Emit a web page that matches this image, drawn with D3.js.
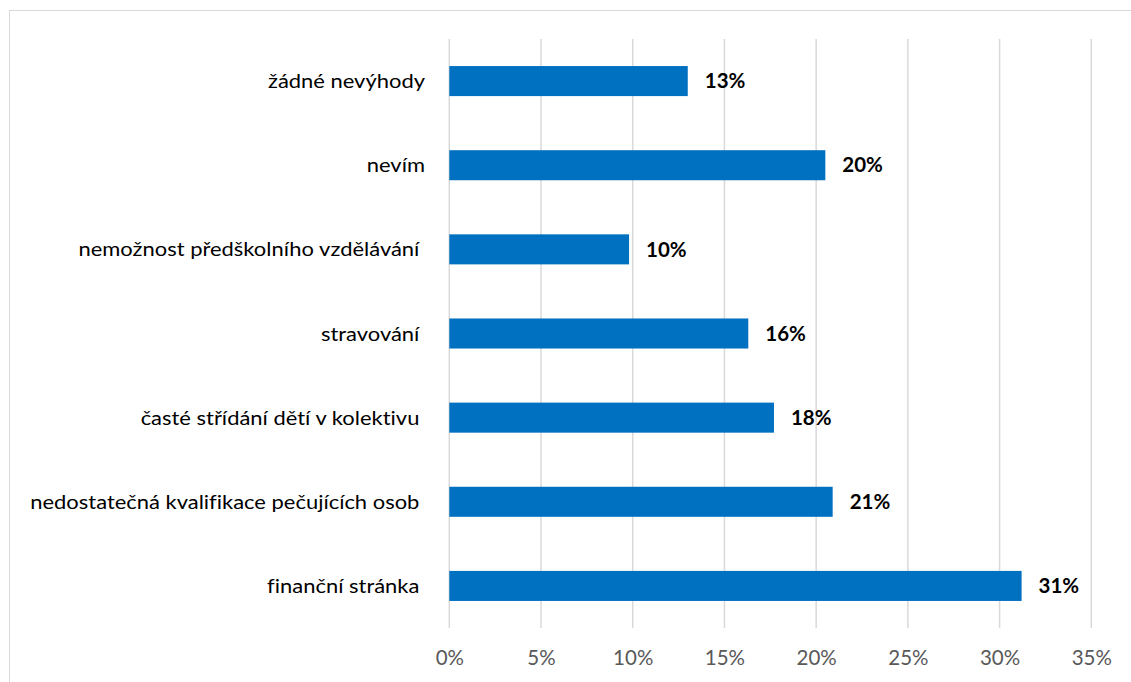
<!DOCTYPE html>
<html><head><meta charset="utf-8">
<script src="https://cdn.jsdelivr.net/npm/d3@7"></script>
<style>body{margin:0;background:#fff}svg{display:block}text{white-space:pre;font-variant-ligatures:none}</style>
</head><body>
<svg id="c" width="1131" height="682"></svg>
<script>
const categories = ["žádné nevýhody","nevím","nemožnost předškolního vzdělávání ","stravování ","časté střídání dětí v kolektivu ","nedostatečná kvalifikace pečujících osob ","finanční stránka "];
const values = [13.0, 20.5, 9.8, 16.3, 17.7, 20.9, 31.2];
const labels = ["13%","20%","10%","16%","18%","21%","31%"];
const ticks = [0,5,10,15,20,25,30,35];

const svg = d3.select("#c");
const font = "Lato, 'Open Sans', sans-serif";
svg.append("rect").attr("x",9.5).attr("y",10.5).attr("width",1130).attr("height",690)
  .attr("fill","#fff").attr("stroke","#d9d9d9").attr("stroke-width",1);

const x = d3.scaleLinear().domain([0,35]).range([449.3,1091.3]);
const y = d3.scaleBand().domain(categories).range([39,628]).paddingInner(0.643).paddingOuter(0.3215);

const g = svg.append("g");
g.selectAll("line.grid").data(ticks).join("line")
  .attr("x1",d=>x(d)).attr("x2",d=>x(d)).attr("y1",39).attr("y2",628)
  .attr("stroke","#d9d9d9").attr("stroke-width",1.5);

g.selectAll("rect.bar").data(values).join("rect")
  .attr("x",x(0)).attr("y",(d,i)=>y(categories[i]))
  .attr("width",d=>x(d)-x(0)).attr("height",y.bandwidth())
  .attr("fill","#0070C0");

g.selectAll("text.val").data(values).join("text")
  .attr("x",d=>x(d)+17).attr("y",(d,i)=>y(categories[i])+y.bandwidth()/2)
  .attr("dy","0.35em").attr("font-family",font).attr("font-weight","bold")
  .attr("font-size",20.5).attr("fill","#000").text((d,i)=>labels[i]);

const cats = g.selectAll("text.cat").data(categories).join("text")
  .attr("x",0).attr("y",0).attr("dy","0.35em")
  .attr("text-anchor","end").attr("font-family",font).attr("font-size",20)
  .attr("fill","#000").text(d=>d);
// uniform horizontal stretch so the longest label spans like the reference
let maxW = 0; cats.each(function(){ maxW = Math.max(maxW, this.getComputedTextLength()); });
const sx = 395/maxW;
cats.attr("transform",d=>`translate(425,${y(d)+y.bandwidth()/2}) scale(${sx},1)`);

const ax = svg.append("g").attr("transform","translate(0,628)")
  .call(d3.axisBottom(x).tickValues(ticks).tickFormat(d=>d+"%").tickSize(0).tickPadding(22));
ax.select(".domain").remove();
ax.selectAll("text").attr("font-family",font).attr("font-size",20.5).attr("fill","#595959");
</script>
</body></html>
